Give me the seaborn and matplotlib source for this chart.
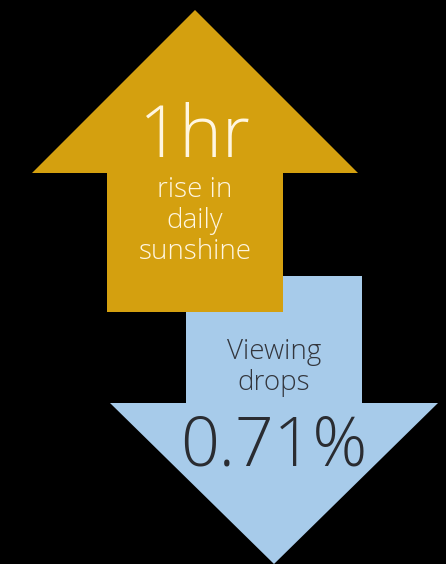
import numpy as np
import matplotlib.pyplot as plt
import seaborn as sns

# Data
up_value = "1hr"
up_caption = ["rise in", "daily", "sunshine"]
down_caption = ["Viewing", "drops"]
down_value = "0.71%"

# arrow geometry: centre x, tip y, head base y, shaft end y, shaft width, head width
up_arrow = [195, 10, 173, 312, 176, 326]
down_arrow = [274, 564, 403, 276, 176, 328]

yellow = "#D4A00F"
blue = "#A7CBEA"

sns.set_theme(style="white")
plt.rcParams['font.family'] = ['Open Sans', 'DejaVu Sans']


def arrow_poly(cx, tip, base, end, shaft_w, head_w):
    xs = [cx, cx + head_w / 2, cx + shaft_w / 2, cx + shaft_w / 2,
          cx - shaft_w / 2, cx - shaft_w / 2, cx - head_w / 2]
    ys = [tip, base, base, end, end, base, base]
    return xs, ys


fig = plt.figure(figsize=(4.46, 5.64), dpi=100, facecolor="black")
ax = fig.add_axes([0, 0, 1, 1])
ax.set_facecolor("black")
ax.set_xlim(0, 446)
ax.set_ylim(564, 0)
ax.axis("off")

xs, ys = arrow_poly(*down_arrow)
ax.fill(xs, ys, color=blue, lw=0)
xs, ys = arrow_poly(*up_arrow)
ax.fill(xs, ys, color=yellow, lw=0)

# up arrow text
ax.text(up_arrow[0], 157, up_value, ha="center", va="baseline", color="#FFF6E0",
        fontsize=52, fontweight="light")
for i, line in enumerate(up_caption):
    ax.text(up_arrow[0], 190 + i * 31, line, ha="center", va="center",
            color="#FFF6E0", fontsize=20, fontweight="light")

# down arrow text
for i, line in enumerate(down_caption):
    ax.text(down_arrow[0], 352 + i * 31, line, ha="center", va="center",
            color="#33363D", fontsize=20, fontweight="light")
ax.text(down_arrow[0], 465, down_value, ha="center", va="baseline",
        color="#2A2C31", fontsize=49, fontweight="light")

fig.savefig("out.png", dpi=100, facecolor="black")
